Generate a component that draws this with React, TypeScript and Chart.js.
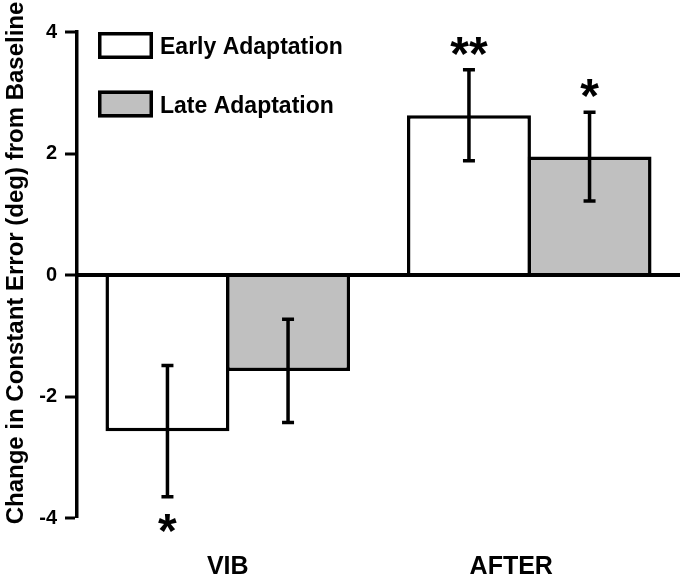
import { useEffect, useRef } from 'react';
import { Chart, registerables } from 'chart.js';

Chart.register(...registerables);

const FONT = '"Liberation Sans", Arial, Helvetica, sans-serif';

const categories = ['VIB', 'AFTER'];
const seriesLabels = ['Early Adaptation', 'Late Adaptation'];
const earlyMeans = [-2.57, 2.63];
const earlySem = [1.08, 0.75];
const lateMeans = [-1.58, 1.95];
const lateSem = [0.85, 0.73];
const earlyStars = ['*', '**'];
const lateStars = ['', '*'];
const yTicks = [-4, -2, 0, 2, 4];
const yTitle = 'Change in Constant Error (deg) from Baseline';

const errs = [earlySem, lateSem];
const stars = [earlyStars, lateStars];
const LABEL_NUDGE = [0, -18];
const LW = 3.5;

const overlay = {
  id: 'overlay',
  afterDatasetsDraw(chart: any) {
    const ctx = chart.ctx as CanvasRenderingContext2D;
    const y = chart.scales.y;
    const area = chart.chartArea;
    ctx.save();
    ctx.strokeStyle = '#000';
    ctx.fillStyle = '#000';
    ctx.lineCap = 'butt';

    // zero baseline across the plot
    const y0 = y.getPixelForValue(0);
    ctx.lineWidth = 4;
    ctx.beginPath();
    ctx.moveTo(area.left, y0);
    ctx.lineTo(area.right, y0);
    ctx.stroke();

    ctx.lineWidth = LW;
    chart.data.datasets.forEach((ds: any, i: number) => {
      const meta = chart.getDatasetMeta(i);
      meta.data.forEach((el: any, j: number) => {
        const m = ds.data[j] as number;
        const e = errs[i][j];
        const yHi = y.getPixelForValue(m + e);
        const yLo = y.getPixelForValue(m - e);
        const cx = el.x;
        ctx.beginPath();
        ctx.moveTo(cx, yHi);
        ctx.lineTo(cx, yLo);
        ctx.moveTo(cx - 6, yHi);
        ctx.lineTo(cx + 6, yHi);
        ctx.moveTo(cx - 6, yLo);
        ctx.lineTo(cx + 6, yLo);
        ctx.stroke();
        const s = stars[i][j];
        if (s) {
          ctx.font = `bold 48px ${FONT}`;
          ctx.textAlign = 'center';
          ctx.textBaseline = 'alphabetic';
          const mt = ctx.measureText(s);
          const cy = m >= 0 ? yHi - 24 : yLo + 26;
          ctx.fillText(s, cx, cy + (mt.actualBoundingBoxAscent - mt.actualBoundingBoxDescent) / 2);
        }
      });
    });
    ctx.restore();
  },
  afterDraw(chart: any) {
    const ctx = chart.ctx as CanvasRenderingContext2D;
    const area = chart.chartArea;
    const xs = chart.scales.x;
    ctx.save();
    ctx.fillStyle = '#000';

    // legend
    const lx = area.left + 21;
    const ly = area.top;
    chart.data.datasets.forEach((ds: any, i: number) => {
      const by = ly + i * 58.5;
      ctx.fillStyle = ds.backgroundColor;
      ctx.fillRect(lx, by, 55, 27);
      ctx.strokeStyle = '#000';
      ctx.lineWidth = LW;
      ctx.strokeRect(lx + LW / 2, by + LW / 2, 55 - LW, 27 - LW);
      ctx.fillStyle = '#000';
      ctx.font = `bold 23px ${FONT}`;
      ctx.textAlign = 'left';
      ctx.textBaseline = 'alphabetic';
      ctx.fillText(ds.label, lx + 62, by + 13.5 + 8.5);
    });

    // category labels
    ctx.font = `bold 25px ${FONT}`;
    ctx.textAlign = 'center';
    ctx.textBaseline = 'alphabetic';
    categories.forEach((c, i) => {
      ctx.fillText(c, xs.getPixelForValue(i) + LABEL_NUDGE[i], area.bottom + 55.5);
    });

    // y title
    ctx.translate(23, (area.top + area.bottom) / 2 - 12);
    ctx.rotate(-Math.PI / 2);
    ctx.font = `bold 24px ${FONT}`;
    ctx.textAlign = 'center';
    ctx.fillText(yTitle, 0, 0);
    ctx.restore();
  },
};

export default function App() {
  const ref = useRef<HTMLCanvasElement>(null);
  useEffect(() => {
    const chart = new Chart(ref.current!, {
      type: 'bar',
      data: {
        labels: categories,
        datasets: [
          {
            label: seriesLabels[0],
            data: earlyMeans,
            backgroundColor: '#ffffff',
            borderColor: '#000000',
            borderWidth: LW,
            borderSkipped: 'start',
            categoryPercentage: 0.8,
            barPercentage: 1.028,
          },
          {
            label: seriesLabels[1],
            data: lateMeans,
            backgroundColor: '#c0c0c0',
            borderColor: '#000000',
            borderWidth: LW,
            borderSkipped: 'start',
            categoryPercentage: 0.8,
            barPercentage: 1.028,
          },
        ],
      },
      options: {
        animation: false,
        responsive: true,
        maintainAspectRatio: false,
        layout: { padding: { top: 32, right: 6, bottom: 0, left: 0 } },
        plugins: { legend: { display: false }, tooltip: { enabled: false } },
        scales: {
          x: {
            grid: { display: false },
            border: { display: false },
            ticks: { display: false },
            afterFit: (s: any) => {
              s.height = 60;
            },
          },
          y: {
            min: -4,
            max: 4,
            afterBuildTicks: (s: any) => {
              s.ticks = yTicks.map((v) => ({ value: v }));
            },
            border: { display: true, color: '#000', width: LW },
            grid: {
              drawOnChartArea: true,
              color: 'rgba(0,0,0,0)',
              lineWidth: 0,
              drawTicks: true,
              tickLength: 12,
              tickWidth: 3,
              tickColor: '#000',
            },
            ticks: {
              font: { family: FONT, size: 20, weight: 'bold' },
              color: '#000',
              padding: 8,
            },
            afterFit: (s: any) => {
              s.width = 77;
            },
          },
        },
      },
      plugins: [overlay],
    } as any);
    return () => chart.destroy();
  }, []);
  return (
    <div style={{ position: 'fixed', left: 0, top: 0, width: 686, height: 578, background: '#fff' }}>
      <canvas ref={ref} />
    </div>
  );
}
